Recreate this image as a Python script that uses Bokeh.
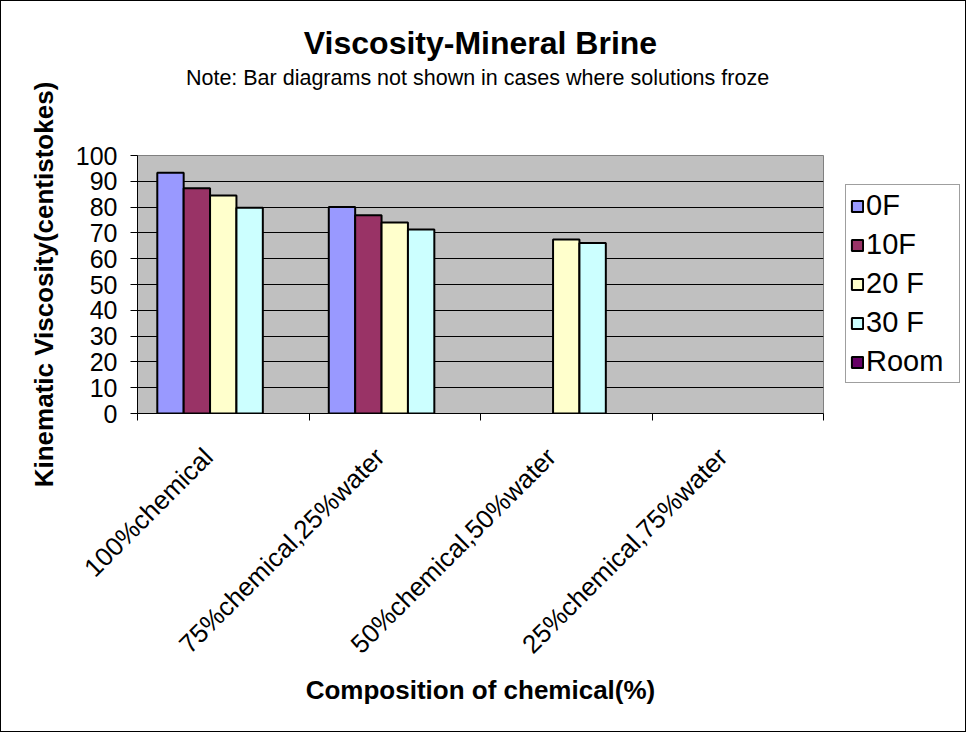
import math
from bokeh.plotting import figure
from bokeh.layouts import row
from bokeh.models import (ColumnDataSource, Range1d, FixedTicker, Legend, LegendItem, LinearAxis)
from bokeh.embed import file_html
from bokeh.resources import INLINE

# ---- data ----
categories = ["100%chemical", "75%chemical,25%water", "50%chemical,50%water", "25%chemical,75%water"]
series_names = ["0F", "10F", "20 F", "30 F", "Room"]
nan = float("nan")
v_0F = [93.3, 80.0, nan, nan]
v_10F = [87.3, 76.8, nan, nan]
v_20F = [84.5, 74.0, 67.4, nan]
v_30F = [79.7, 71.3, 66.1, nan]
v_room = [nan, nan, nan, nan]
series_values = [v_0F, v_10F, v_20F, v_30F, v_room]
colors = ["#9999FF", "#993366", "#FFFFCC", "#CCFFFF", "#660066"]
y_ticks = [0, 10, 20, 30, 40, 50, 60, 70, 80, 90, 100]
title_text = "Viscosity-Mineral Brine"
subtitle_text = "Note:  Bar diagrams not shown in cases where solutions froze"

FONT = "Liberation Sans"
TOTAL_W, TOTAL_H = 964, 730
MAIN_W = 823

# ---------------- main chart ----------------
p = figure(width=MAIN_W, height=TOTAL_H, output_backend="svg", toolbar_location=None,
           title=None, x_range=Range1d(0, len(categories)), y_range=Range1d(0, 100),
           min_border_left=136, min_border_right=1, min_border_top=154, min_border_bottom=318)
p.background_fill_color = "#C0C0C0"
p.border_fill_color = "white"
p.outline_line_color = "#808080"
p.outline_line_width = 1

n_ser = len(series_names)
w = 1.0 / 6.5
for j, (name, vals, col) in enumerate(zip(series_names, series_values, colors)):
    xs = [i + 0.5 + (j - (n_ser - 1) / 2) * w for i in range(len(categories))]
    src = ColumnDataSource(dict(x=xs, top=vals))
    p.vbar(x="x", top="top", bottom=0, width=w, source=src,
           fill_color=col, line_color="black", line_width=2)

p.xgrid.visible = False
p.ygrid.ticker = FixedTicker(ticks=y_ticks[1:-1])
p.ygrid.grid_line_color = "black"
p.ygrid.grid_line_width = 1

p.yaxis.ticker = FixedTicker(ticks=y_ticks)
p.yaxis.minor_tick_line_color = None
p.yaxis.major_tick_in = 0
p.yaxis.major_tick_out = 7
p.yaxis.major_label_standoff = 13
p.yaxis.major_label_text_font = FONT
p.yaxis.major_label_text_font_size = "25px"
p.yaxis.major_label_text_color = "black"
p.yaxis.axis_line_color = "black"
p.yaxis.major_tick_line_color = "black"
p.yaxis.axis_label = "Kinematic Viscosity(centistokes)"
p.yaxis.axis_label_text_font = FONT
p.yaxis.axis_label_text_font_size = "26px"
p.yaxis.axis_label_text_font_style = "bold"
p.yaxis.axis_label_text_color = "black"
p.yaxis.axis_label_standoff = 14

label_shift = 0.0875  # rotated labels end slightly left of the category centre
label_ticks = [i + 0.5 - label_shift for i in range(len(categories))]
bounds = [float(i) for i in range(len(categories) + 1)]
p.xaxis.ticker = FixedTicker(ticks=label_ticks, minor_ticks=bounds)
p.xaxis.major_label_overrides = {c: lab for c, lab in zip(label_ticks, categories)}
p.xaxis.major_label_orientation = math.pi / 4
p.xaxis.major_tick_line_color = None
p.xaxis.major_tick_in = 0
p.xaxis.major_tick_out = 7
p.xaxis.minor_tick_line_color = "black"
p.xaxis.minor_tick_in = 0
p.xaxis.minor_tick_out = 7
p.xaxis.major_label_standoff = 32
p.xaxis.major_label_text_font = FONT
p.xaxis.major_label_text_font_size = "26px"
p.xaxis.major_label_text_color = "black"
p.xaxis.axis_line_color = "black"
p.xaxis.axis_label = "Composition of chemical(%)"
p.xaxis.axis_label_text_font = FONT
p.xaxis.axis_label_text_font_size = "26px"
p.xaxis.axis_label_text_font_style = "bold"
p.xaxis.axis_label_text_color = "black"
p.xaxis.axis_label_standoff = 2


def text_axis(text, size, style, standoff):
    """An axis above the frame that only carries a centred label (used for the titles)."""
    ax = LinearAxis(ticker=FixedTicker(ticks=[]), axis_label=text,
                    axis_label_text_font=FONT, axis_label_text_font_size=size,
                    axis_label_text_font_style=style, axis_label_text_color="black",
                    axis_label_standoff=standoff, axis_line_color=None,
                    major_tick_line_color=None, minor_tick_line_color=None,
                    major_tick_in=0, major_tick_out=0, minor_tick_in=0, minor_tick_out=0,
                    major_label_text_font_size="0px")
    return ax


# first added = closest to the frame
p.add_layout(text_axis(subtitle_text, "21.5px", "normal", 66), "above")
p.add_layout(text_axis(title_text, "32px", "bold", 2), "above")

# ---------------- legend panel ----------------
side = figure(width=TOTAL_W - MAIN_W, height=TOTAL_H, output_backend="svg", toolbar_location=None,
              x_axis_location=None, y_axis_location=None, min_border=0,
              x_range=Range1d(0, 1), y_range=Range1d(0, 1))
side.grid.visible = False
side.xgrid.visible = False
side.ygrid.visible = False
side.outline_line_color = None
side.background_fill_color = "white"
side.border_fill_color = "white"
items = []
for name, col in zip(series_names, colors):
    # placeholder swatch renderers (nothing drawn: values are NaN)
    r = side.vbar(x=[-5.0], top=[nan], bottom=0, width=0.1, fill_color=col,
                  line_color="black", line_width=2)
    items.append(LegendItem(label=name, renderers=[r]))
legend = Legend(items=items, location=(21, 30), orientation="vertical",
                label_text_font=FONT, label_text_font_size="29px", label_text_color="black",
                glyph_width=14, glyph_height=14, label_standoff=2, label_height=30,
                label_width=89, spacing=6, padding=4, margin=0,
                border_line_color="#404040", border_line_width=1,
                background_fill_color="white", background_fill_alpha=1)
side.add_layout(legend, "center")

page = row(p, side, spacing=0)
page.styles = {"border": "1px solid black"}

open("out.html", "w").write(file_html(page, INLINE))
